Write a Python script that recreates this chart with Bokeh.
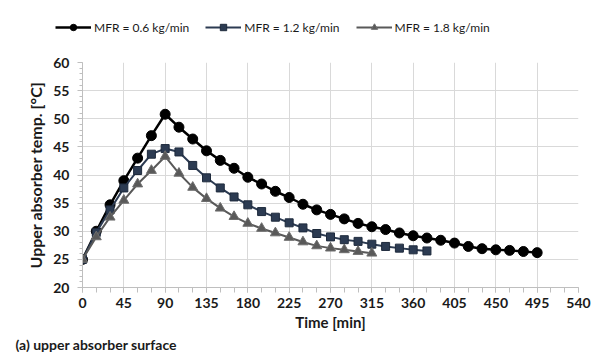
from bokeh.plotting import figure
from bokeh.layouts import column
from bokeh.models import (Range1d, FixedTicker, Legend, LegendItem, Title)
from bokeh.embed import file_html
from bokeh.resources import INLINE

# ---- data ----
t1 = list(range(0, 496, 15))
mfr06 = [25.0, 30.0, 34.7, 39.0, 43.0, 47.0, 50.8, 48.5, 46.4, 44.3, 42.6, 41.2,
         39.6, 38.4, 37.1, 36.0, 34.8, 33.8, 33.0, 32.2, 31.4, 30.8, 30.3, 29.7,
         29.2, 28.8, 28.4, 27.9, 27.3, 26.9, 26.7, 26.6, 26.4, 26.2]
t2 = list(range(0, 376, 15))
mfr12 = [25.0, 29.8, 33.8, 37.7, 40.8, 43.7, 44.7, 44.1, 41.7, 39.5, 37.7, 36.1,
         34.7, 33.5, 32.5, 31.5, 30.6, 29.6, 29.0, 28.5, 28.2, 27.7, 27.3, 27.0,
         26.7, 26.5]
t3 = list(range(0, 316, 15))
mfr18 = [25.0, 29.0, 32.5, 35.5, 38.4, 40.8, 43.3, 40.3, 37.8, 35.8, 34.1, 32.6,
         31.4, 30.5, 29.7, 28.9, 28.1, 27.4, 27.0, 26.7, 26.4, 26.1]
series_labels = ["MFR = 0.6 kg/min", "MFR = 1.2 kg/min", "MFR = 1.8 kg/min"]
x_ticks = list(range(0, 541, 45))
y_ticks = list(range(20, 61, 5))
x_title = "Time [min]"
y_title = "Upper absorber temp. [°C]"
caption = "(a) upper absorber surface"

FONT = "Lato"
TXT = "#1a1a1a"
c1, c2, c3 = "#000000", "#2C3B52", "#595959"
styles = [
    dict(color=c1, lw=2.5, marker="circle", size=10, edge=c1),
    dict(color=c2, lw=2.0, marker="square", size=8, edge="#1E2A3C"),
    dict(color=c3, lw=2.0, marker="triangle", size=10, edge="#6E6E6E"),
]
xs = [t1, t2, t3]
ys = [mfr06, mfr12, mfr18]

TOP_H = 40

# ---------- legend strip (data kept outside its view, only the legend shows) ----------
lg = figure(width=592, height=TOP_H, output_backend="svg", toolbar_location=None,
            x_range=Range1d(0, 1), y_range=Range1d(-10, -9),
            x_axis_type=None, y_axis_type=None,
            min_border_left=0, min_border_right=0, min_border_top=0, min_border_bottom=0)
lg.outline_line_color = None
lg.grid.visible = False
lg.frame_align = False
items = []
for lab, st, tx, ty in zip(series_labels, styles, xs, ys):
    ln = lg.line(tx, ty, line_color=st["color"], line_width=st["lw"])
    mk = lg.scatter(tx, ty, marker=st["marker"], size=st["size"],
                    fill_color=st["color"], line_color=st["edge"])
    items.append(LegendItem(label=lab, renderers=[ln, mk]))
legend = Legend(items=items, orientation="horizontal", location=(55, 5),
                padding=0, margin=0, spacing=16, glyph_width=36, glyph_height=16,
                label_standoff=3, label_text_font=FONT, label_text_font_size="12px",
                label_text_color=TXT, background_fill_alpha=0, border_line_color=None)
lg.add_layout(legend, "center")

# ---------- main chart ----------
p = figure(width=592, height=352 - TOP_H, output_backend="svg", toolbar_location=None,
           x_range=Range1d(0, 540), y_range=Range1d(20, 60),
           min_border_left=82, min_border_right=14, min_border_top=62 - TOP_H,
           min_border_bottom=62)
p.outline_line_color = None
p.frame_align = False

p.xaxis.ticker = FixedTicker(ticks=x_ticks, minor_ticks=list(range(0, 541, 15)))
p.yaxis.ticker = FixedTicker(ticks=y_ticks, minor_ticks=list(range(20, 61, 1)))
for ax in (p.xaxis, p.yaxis):
    ax.axis_line_color = "#BFBFBF"
    ax.major_tick_line_color = "#BFBFBF"
    ax.minor_tick_line_color = "#BFBFBF"
    ax.major_tick_in = 0
    ax.minor_tick_in = 0
    ax.major_tick_out = 5
    ax.minor_tick_out = 5
    ax.major_label_text_font = FONT
    ax.major_label_text_font_style = "bold"
    ax.major_label_text_font_size = "14px"
    ax.major_label_text_color = TXT
    ax.axis_label_text_font = FONT
    ax.axis_label_text_font_style = "bold"
    ax.axis_label_text_font_size = "16px"
    ax.axis_label_text_color = TXT
p.xaxis.axis_label_text_font_size = "15px"
p.yaxis.minor_tick_out = 3
p.xaxis.major_label_standoff = 5
p.yaxis.major_label_standoff = 8
p.xaxis.axis_label = x_title
p.yaxis.axis_label = y_title
p.xaxis.axis_label_standoff = 2
p.yaxis.axis_label_standoff = 5

p.xgrid.grid_line_color = "#D9D9D9"
p.ygrid.grid_line_color = "#D9D9D9"

for tx, ty, st in zip(xs, ys, styles):
    p.line(tx, ty, line_color=st["color"], line_width=st["lw"])
    p.scatter(tx, ty, marker=st["marker"], size=st["size"],
              fill_color=st["color"], line_color=st["edge"])

p.add_layout(Title(text=caption, align="left", offset=-67, standoff=0,
                   text_font=FONT, text_font_style="bold", text_font_size="14px",
                   text_color=TXT), "below")

layout = column(lg, p, spacing=0)
open("out.html", "w").write(file_html(layout, INLINE))
